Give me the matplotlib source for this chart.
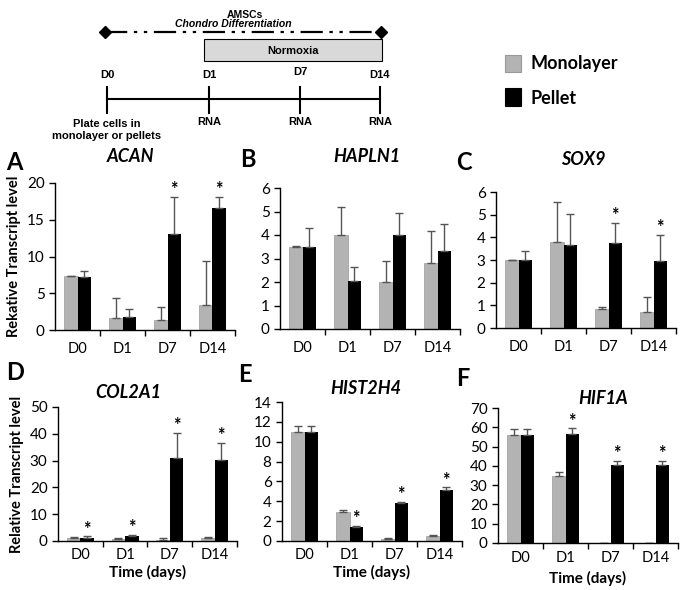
import matplotlib
matplotlib.use("Agg")
import matplotlib.pyplot as plt
from matplotlib.patches import Rectangle
import numpy as np

plt.rcParams['font.family'] = ['Lato', 'DejaVu Sans']

days = ["D0", "D1", "D7", "D14"]

genes = ["ACAN", "HAPLN1", "SOX9", "COL2A1", "HIST2H4", "HIF1A"]
letters = ["A", "B", "C", "D", "E", "F"]
ymax = [20, 6, 6, 50, 14, 70]
ystep = [5, 1, 1, 10, 2, 10]

mono = [
    [7.3, 1.7, 1.4, 3.4],
    [3.5, 4.0, 2.0, 2.8],
    [3.0, 3.8, 0.85, 0.7],
    [1.2, 0.6, 0.4, 1.2],
    [11.0, 2.95, 0.25, 0.55],
    [56.0, 35.0, 0.2, 0.2],
]
mono_err = [
    [0.05, 2.7, 1.7, 6.0],
    [0.02, 1.2, 0.9, 1.35],
    [0.02, 1.75, 0.07, 0.65],
    [0.2, 0.5, 0.6, 0.3],
    [0.55, 0.15, 0.05, 0.05],
    [3.0, 2.0, 0.0, 0.0],
]
pellet = [
    [7.2, 1.8, 13.0, 16.6],
    [3.5, 2.05, 4.0, 3.3],
    [3.0, 3.65, 3.75, 2.95],
    [1.3, 1.9, 31.0, 30.4],
    [11.0, 1.45, 3.8, 5.1],
    [56.0, 56.5, 40.3, 40.2],
]
pellet_err = [
    [0.8, 1.1, 5.1, 1.5],
    [0.8, 0.6, 0.95, 1.15],
    [0.38, 1.4, 0.9, 1.15],
    [0.5, 0.3, 9.3, 6.3],
    [0.6, 0.08, 0.15, 0.3],
    [3.0, 3.0, 2.3, 2.3],
]
# which pellet bars carry a star
stars = [
    [0, 0, 1, 1],
    [0, 0, 0, 0],
    [0, 0, 1, 1],
    [1, 1, 1, 1],
    [0, 1, 1, 1],
    [0, 1, 1, 1],
]

W, H = 682, 590
fig = plt.figure(figsize=(W / 100, H / 100), dpi=100)

# axes boxes in pixels: left, right, top, bottom
boxes = [
    (55, 235, 183, 330),
    (280, 460, 188, 329),
    (496, 676, 192, 328),
    (58, 237, 407, 541),
    (282, 462, 402, 541),
    (498, 678, 408, 543),
]
letter_pos = [(6, 163), (240, 160), (456, 163), (6, 372), (238, 375), (456, 378)]
title_pos = [(130, 157), (367, 156), (583, 160), (128, 392), (366, 388), (603, 398)]
xtick_pad = [8.5, 8.5, 8.5, 5, 5, 6]
xlabel_y = [None, None, None, 572, 572, 578]

grey = "#b3b3b3"
x = np.arange(4)
bw = 0.3

for i, g in enumerate(genes):
    l, r, t, b = boxes[i]
    ax = fig.add_axes([l / W, 1 - b / H, (r - l) / W, (b - t) / H])
    ax.bar(x - bw / 2, mono[i], bw, color=grey, edgecolor="#999999", linewidth=0.5)
    ax.bar(x + bw / 2, pellet[i], bw, color="black")
    ax.errorbar(x - bw / 2, mono[i], yerr=[np.zeros(4), mono_err[i]], fmt="none",
                ecolor="#555555", elinewidth=1, capsize=3, capthick=1)
    ax.errorbar(x + bw / 2, pellet[i], yerr=[np.zeros(4), pellet_err[i]], fmt="none",
                ecolor="#555555", elinewidth=1, capsize=3, capthick=1)
    for j in range(4):
        if stars[i][j]:
            ax.annotate("*", (x[j] + bw / 2, pellet[i][j] + pellet_err[i][j]),
                        xytext=(0, -1), textcoords="offset points",
                        ha="center", va="bottom", fontsize=13, fontweight="bold")
    ax.set_xlim(-0.5, 3.5)
    ax.set_ylim(0, ymax[i])
    ax.set_yticks(np.arange(0, ymax[i] + 0.01, ystep[i]))
    ax.set_xticks(x)
    ax.set_xticklabels(days, fontsize=10.5)
    ax.set_xticks([0.5, 1.5, 2.5, 3.5], minor=True)
    ax.tick_params(axis="x", which="major", length=0, pad=xtick_pad[i])
    ax.tick_params(axis="x", which="minor", length=4, width=1)
    ax.tick_params(axis="y", labelsize=11, length=4, width=1)
    for s in ["top", "right"]:
        ax.spines[s].set_visible(False)
    ax.spines["left"].set_linewidth(1)
    ax.spines["bottom"].set_linewidth(1)
    fig.text(title_pos[i][0] / W, 1 - title_pos[i][1] / H, g, ha="center", va="center",
             fontsize=13, fontweight="bold", fontstyle="italic")
    fig.text(letter_pos[i][0] / W, 1 - letter_pos[i][1] / H, letters[i],
             fontsize=17, fontweight="bold", va="center")
    if i == 0:
        ax.set_ylabel("Rekative Transcript level", fontsize=10.5, fontweight="bold", labelpad=4)
    if i == 3:
        ax.set_ylabel("Relative Transcript level", fontsize=10.5, fontweight="bold", labelpad=4)
    if i >= 3:
        fig.text((l + r) / 2 / W, 1 - xlabel_y[i] / H, "Time (days)", ha="center",
                 va="center", fontsize=11, fontweight="bold")

# schematic at the top, drawn in pixel coordinates
sk = fig.add_axes([0, 0, 1, 1])
sk.set_xlim(0, W)
sk.set_ylim(H, 0)
sk.axis("off")
sk.patch.set_alpha(0)
arial = ['Liberation Sans', 'DejaVu Sans']
sk.text(245, 15, "AMSCs", ha="center", va="center", fontsize=7.5, fontweight="bold", family=arial)
sk.text(233, 24, "Chondro Differentiation", ha="center", va="center", fontsize=7.5,
        fontweight="bold", fontstyle="italic", family=arial)
sk.plot([105, 381], [32, 32], color="black", lw=1.6, dashes=[10, 3, 1.5, 3, 1.5, 3])
sk.plot([105, 381], [32, 32], "D", color="black", ms=6, ls="none")
sk.add_patch(Rectangle((204, 39), 178, 22, facecolor="#d9d9d9", edgecolor="black", lw=0.8))
sk.text(293, 51, "Normoxia", ha="center", va="center", fontsize=8, fontweight="bold", family=arial)
tl_x = [107, 209, 300, 380]
tl_lab = ["D0", "D1", "D7", "D14"]
tl_y = [75, 75, 72, 75]
sk.plot([107, 380], [99, 99], color="black", lw=1.5)
for xx, lab, yy in zip(tl_x, tl_lab, tl_y):
    sk.plot([xx, xx], [87, 113], color="black", lw=1.5)
    sk.text(xx, yy, lab, ha="center", va="center", fontsize=8, fontweight="bold", family=arial)
for xx in tl_x[1:]:
    sk.text(xx, 122, "RNA", ha="center", va="center", fontsize=8, fontweight="bold", family=arial)
sk.text(107, 130, "Plate cells in\nmonolayer or pellets", ha="center", va="center",
        fontsize=8, fontweight="bold", family=arial, linespacing=1.25)

# legend
sk.add_patch(Rectangle((505, 55), 16, 17, facecolor=grey, edgecolor="#999999", lw=0.8))
sk.add_patch(Rectangle((505, 88), 16, 18, facecolor="black", edgecolor="black", lw=0.8))
sk.text(530, 64, "Monolayer", va="center", fontsize=13, fontweight="bold")
sk.text(530, 98, "Pellet", va="center", fontsize=13, fontweight="bold")

fig.savefig("out.png", dpi=100)
